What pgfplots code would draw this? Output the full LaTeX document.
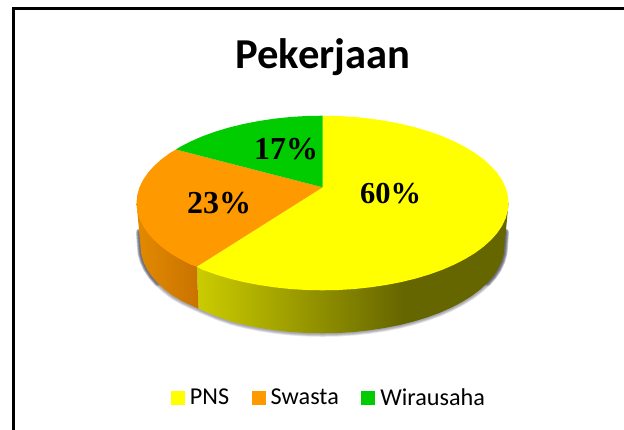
\documentclass[border=0pt]{standalone}
\usepackage{fontspec}
\setmainfont{Carlito}
\newfontfamily\serifb[BoldFont={Liberation Serif Bold}]{Liberation Serif}
\usepackage{pgfplots}
\pgfplotsset{compat=1.18}
\definecolor{pY}{HTML}{FFFF00}
\definecolor{pO}{HTML}{FF9900}
\definecolor{pG}{HTML}{00CC00}
\definecolor{shd}{rgb}{0.22,0.22,0.32}
\pgfdeclarehorizontalshading{yw}{100bp}{rgb(0bp)=(0.80,0.80,0); rgb(25bp)=(0.80,0.80,0); rgb(58bp)=(0.40,0.40,0); rgb(100bp)=(0.40,0.40,0)}
\pgfdeclarehorizontalshading{ow}{100bp}{rgb(0bp)=(0.89,0.54,0); rgb(25bp)=(0.89,0.54,0); rgb(75bp)=(0.79,0.45,0); rgb(100bp)=(0.79,0.45,0)}
\begin{document}
\begin{tikzpicture}
\begin{axis}[
  scale only axis, width=624pt, height=430pt,
  xmin=0, xmax=624, ymin=0, ymax=430, y dir=reverse,
  hide axis, axis on top=false,
  legend image code/.code={\fill[#1,draw=none] (0pt,-7pt) rectangle (14pt,7pt);},
  legend style={at={(axis cs:329,397.5)}, anchor=center, draw=none, fill=none,
    legend columns=3, font=\fontsize{24.2}{26}\selectfont,
    /tikz/every odd column/.append style={column sep=3pt},
    /tikz/every even column/.append style={column sep=20.5pt}},
  legend cell align=left,
]
% page
\addplot[fill=white, draw=none, forget plot] coordinates {(0,0)(624,0)(624,430)(0,430)} -- cycle;
% frame
\addplot[black, line width=3pt, forget plot] coordinates {(13,430)(13,9)(624,9)};
% soft shadow under the pie
\pgfplotsinvokeforeach{7,5.5,4,2.5}{
\addplot[shd, opacity=0.13, line width=#1pt, forget plot, line join=round, line cap=round] coordinates {
(139.5,232)(140.5,246)(141.2,253.6)(143.3,261.2)(146.7,268.6)(151.5,275.9)(157.6,282.9)(164.9,289.65)(173.4,296.1)(183.1,301.6)(193.8,306.6)(205.5,311.8)(218.1,317)(231.5,321.6)(245.6,325.1)(260.3,328)(275.4,330.3)(290.9,332)(306.6,333)(322.5,333.3)(338.4,333)(354.1,332)(369.6,330.3)(384.7,328)(399.4,325.1)(413.5,321.6)(426.9,317.5)(439.5,312.9)(451.2,307.7)(461.9,302.1)(471.6,296.1)(480.1,289.65)(487.4,282.9)(493.5,275.9)(498.3,268.6)(501.7,261.2)(503.8,253.6)(504.5,246)(505.5,232)};
\addplot[shd, opacity=0.16, line width=#1pt, forget plot, line cap=round] coordinates {
(139.5,232)(140.5,246)(141.2,253.6)(143.3,261.2)(146.7,268.6)(151.5,275.9)(157.6,282.9)};
\addplot[shd, opacity=0.16, line width=#1pt, forget plot, line cap=round] coordinates {
(487.4,282.9)(493.5,275.9)(498.3,268.6)(501.7,261.2)(503.8,253.6)(504.5,246)(505.5,232)};
}
% walls
\addplot[shade, shading=yw, draw=none, forget plot] coordinates {
(196.8,266.7)(508.5,203)(504.5,246)(503.8,253.6)(501.7,261.2)(498.3,268.6)(493.5,275.9)(487.4,282.9)(480.1,289.65)(471.6,296.1)(461.9,302.1)(451.2,307.7)(439.5,312.9)(426.9,317.5)(413.5,321.6)(399.4,325.1)(384.7,328)(369.6,330.3)(354.1,332)(338.4,333)(322.5,333.3)(306.6,333)(290.9,332)(275.4,330.3)(260.3,328)(245.6,325.1)(231.5,321.6)(218.1,317)(205.5,311.8)(198.5,308.7)} -- cycle;
\addplot[shade, shading=ow, draw=none, forget plot] coordinates {
(136.5,203)(196.8,266.7)(198.5,308.7)(193.8,306.6)(183.1,301.6)(173.4,296.1)(164.9,289.65)(157.6,282.9)(151.5,275.9)(146.7,268.6)(143.3,261.2)(141.2,253.6)(140.5,246)} -- cycle;
% top faces
\addplot[fill=pY, draw=none, forget plot] coordinates {
(322.7,187.3)(322.5,115.7)(338.7,116)(354.8,117)(370.6,118.7)(386.1,121)(401.1,123.9)(415.5,127.4)(429.2,131.5)(442.1,136.1)(454,141.3)(465,146.9)(474.9,152.9)(483.6,159.35)(491.1,166.1)(497.3,173.1)(502.2,180.4)(505.7,187.8)(507.8,195.4)(508.5,203)(507.8,210.6)(505.7,218.2)(502.2,225.6)(497.3,232.9)(491.1,239.9)(483.6,246.65)(474.9,253.1)(465,259.1)(454,264.7)(442.1,269.9)(429.2,274.5)(415.5,278.6)(401.1,282.1)(386.1,285)(370.6,287.3)(354.8,289)(338.7,290)(322.5,290.3)(306.3,290)(290.2,289)(274.4,287.3)(258.9,285)(243.9,282.1)(229.5,278.6)(215.8,274.5)(202.9,269.9)(196.8,266.7)} -- cycle;
\addplot[fill=pO, draw=none, forget plot] coordinates {
(322.7,187.3)(176,149.5)(170.1,152.9)(161.4,159.35)(153.9,166.1)(147.7,173.1)(142.8,180.4)(139.3,187.8)(137.2,195.4)(136.5,203)(137.2,210.6)(139.3,218.2)(142.8,225.6)(147.7,232.9)(153.9,239.9)(161.4,246.65)(170.1,253.1)(180,259.1)(191,264.7)(196.8,266.7)} -- cycle;
\addplot[fill=pG, draw=none, forget plot] coordinates {
(322.7,187.3)(176,149.5)(180,146.9)(191,141.3)(202.9,136.1)(215.8,131.5)(229.5,127.4)(243.9,123.9)(258.9,121)(274.4,118.7)(290.2,117)(306.3,116)(322.5,115.7)} -- cycle;
% labels
\node[font=\serifb\bfseries\fontsize{30.5}{32}\selectfont, text=black] at (axis cs:390.5,194) {60\%};
\node[font=\serifb\bfseries\fontsize{32}{34}\selectfont, text=black] at (axis cs:219,203) {23\%};
\node[font=\serifb\bfseries\fontsize{32}{34}\selectfont, text=black] at (axis cs:286,149) {17\%};
\node[font=\bfseries\fontsize{42.6}{46}\selectfont, text=black] at (axis cs:323,57) {Pekerjaan};
% legend
\addlegendimage{fill=pY}\addlegendentry{PNS}
\addlegendimage{fill=pO}\addlegendentry{Swasta}
\addlegendimage{fill=pG}\addlegendentry{Wirausaha}
\end{axis}
\end{tikzpicture}
\end{document}
